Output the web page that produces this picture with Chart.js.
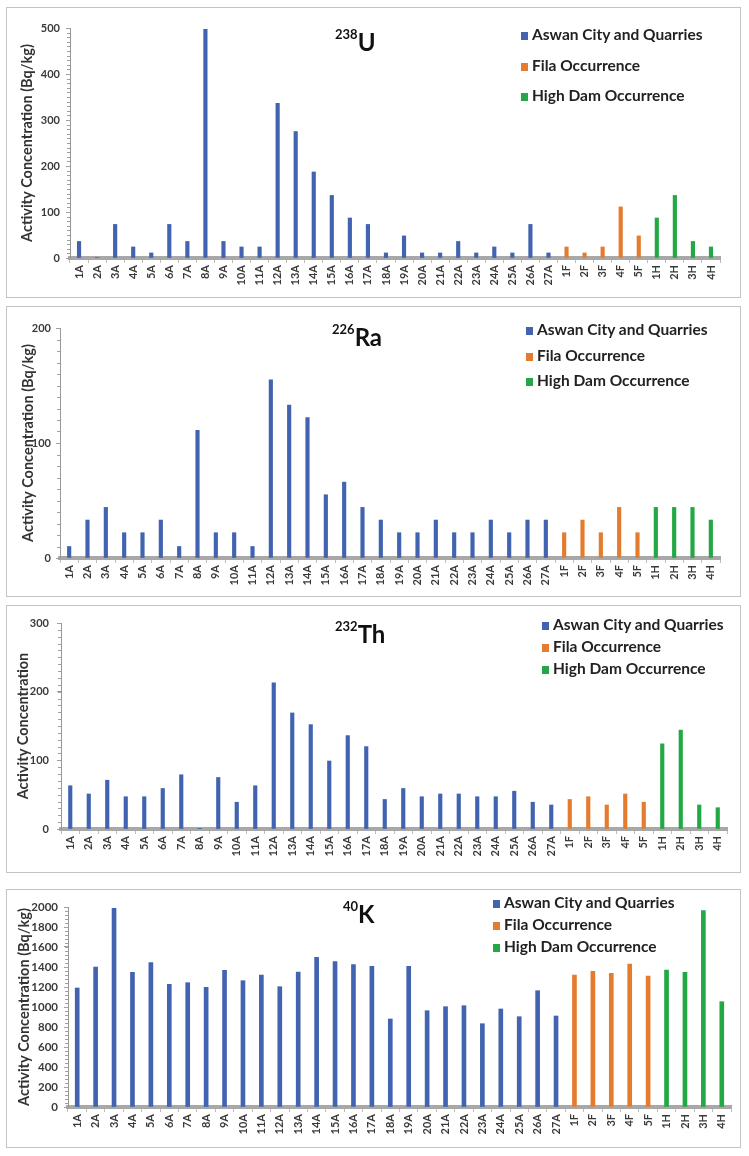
<!DOCTYPE html>
<html><head><meta charset="utf-8">
<script src="https://cdn.jsdelivr.net/npm/chart.js@4.4.1/dist/chart.umd.min.js"></script>
<style>
body{margin:0;background:#fff;width:749px;height:1156px;position:relative;overflow:hidden;font-family:Lato,'Liberation Sans',sans-serif;}
.panel{position:absolute;left:6px;width:733px;border:1px solid #c4c4c4;}
.panel canvas{position:absolute;left:0;top:0;}
.ttl{position:absolute;font-weight:bold;color:#111;white-space:nowrap;line-height:1;}
.ttl sup{font-size:13px;vertical-align:top;position:relative;top:-2px;}
.ttl span{font-size:24px;}
.lg{position:absolute;font-weight:bold;color:#222;font-size:15.5px;white-space:nowrap;}
.lg i{display:inline-block;width:7px;height:8px;margin-right:4px;vertical-align:0px;}
</style></head>
<body>
<script>
// ---------- data ----------
const categories = ['1A','2A','3A','4A','5A','6A','7A','8A','9A','10A','11A','12A','13A','14A','15A','16A','17A','18A','19A','20A','21A','22A','23A','24A','25A','26A','27A','1F','2F','3F','4F','5F','1H','2H','3H','4H'];
const seriesNames = ['Aswan City and Quarries','Fila Occurrence','High Dam Occurrence'];

const u238Aswan = [36,1,73,24,11,73,36,497,36,24,24,336,275,187,136,87,73,11,48,11,11,36,11,24,11,73,11];
const u238Fila  = [24,11,24,111,48];
const u238Dam   = [87,136,36,24];

const ra226Aswan = [10,33,44,22,22,33,10,111,22,22,10,155,133,122,55,66,44,33,22,22,33,22,22,33,22,33,33];
const ra226Fila  = [22,33,22,44,22];
const ra226Dam   = [44,44,44,33];

const th232Aswan = [63,51,71,47,47,59,79,1,75,39,63,213,169,152,99,136,120,43,59,47,51,51,47,47,55,39,35];
const th232Fila  = [43,47,35,51,39];
const th232Dam   = [124,144,35,31];

const k40Aswan = [1190,1400,1987,1347,1443,1227,1243,1197,1367,1263,1320,1203,1350,1497,1453,1423,1407,880,1407,963,1003,1013,833,980,903,1163,910];
const k40Fila  = [1320,1357,1337,1430,1310];
const k40Dam   = [1370,1347,1963,1053];

const yMaxU = 500, yStepU = 100;
const yMaxRa = 200, yStepRa = 100;
const yMaxTh = 300, yStepTh = 100;
const yMaxK = 2000, yStepK = 200;

// ---------- styling / layout ----------
const colors = ['#4163b0','#e47c2f','#22a844'];

const panels = [
  {iso:'238', el:'U', A:u238Aswan, F:u238Fila, H:u238Dam, max:yMaxU, step:yStepU, minor:10,
   yTitle:'Activity Concentration (Bq/kg)',
   box:{top:7,h:289}, pad:{top:20,right:20}, yW:63, xH:39, titleOff:12, tickPad:6, yFont:11, bar:3.5,
   ttl:{left:335,top:30}, lg:{left:521,top:35,gap:30.5}},
  {iso:'226', el:'Ra', A:ra226Aswan, F:ra226Fila, H:ra226Dam, max:yMaxRa, step:yStepRa, minor:10,
   yTitle:'Activity Concentration (Bq/kg)',
   box:{top:306,h:289}, pad:{top:21,right:20}, yW:53, xH:38, titleOff:13, tickPad:5, yFont:11, bar:3.5,
   ttl:{left:332,top:325}, lg:{left:526,top:330,gap:25.5}},
  {iso:'232', el:'Th', A:th232Aswan, F:th232Fila, H:th232Dam, max:yMaxTh, step:yStepTh, minor:10,
   yTitle:'Activity Concentration',
   box:{top:605,h:266}, pad:{top:17,right:13}, yW:54, xH:43, titleOff:8, tickPad:8, yFont:11, bar:3.5,
   ttl:{left:335,top:622}, lg:{left:542,top:625,gap:22}},
  {iso:'40', el:'K', A:k40Aswan, F:k40Fila, H:k40Dam, max:yMaxK, step:yStepK, minor:5,
   yTitle:'Activity Concentration (Bq/kg)',
   box:{top:889,h:257}, pad:{top:17,right:9}, yW:61, xH:40, titleOff:9, tickPad:6, yFont:11.5, bar:4,
   ttl:{left:343,top:902}, lg:{left:493,top:903,gap:22}}
];

const minorTicks = {
  id:'minorTicks',
  afterDraw(chart, args, opts){
    const y = chart.scales.y, ctx = chart.ctx;
    const step = opts.step;
    ctx.save(); ctx.strokeStyle = '#a0a0a0'; ctx.lineWidth = 1;
    for (let v = y.min; v <= y.max + 1e-9; v += step){
      const py = Math.round(y.getPixelForValue(v)) + 0.5;
      ctx.beginPath(); ctx.moveTo(y.right - 3, py); ctx.lineTo(y.right, py); ctx.stroke();
    }
    ctx.restore();
  }
};

panels.forEach(p => {
  const div = document.createElement('div');
  div.className = 'panel';
  div.style.top = p.box.top + 'px';
  div.style.height = p.box.h + 'px';
  document.body.appendChild(div);
  const cv = document.createElement('canvas');
  cv.width = 733; cv.height = p.box.h;
  cv.style.width = '733px'; cv.style.height = p.box.h + 'px';
  div.appendChild(cv);

  const nA = p.A.length, nF = p.F.length;
  const mk = (arr, start) => categories.map((c, i) => (i >= start && i < start + arr.length) ? arr[i - start] : null);
  const groups = [mk(p.A, 0), mk(p.F, nA), mk(p.H, nA + nF)];

  const chart = new Chart(cv, {
    type:'bar',
    data:{
      labels: categories,
      datasets: groups.map((d, k) => ({
        label: seriesNames[k], data: d, backgroundColor: colors[k], borderWidth: 0,
        barThickness: p.bar, skipNull: true
      }))
    },
    options:{
      responsive:false, animation:false, devicePixelRatio:1,
      layout:{padding:{left:0, top:p.pad.top, right:p.pad.right, bottom:0}},
      plugins:{legend:{display:false}, tooltip:{enabled:false}, minorTicks:{step:p.step / p.minor}},
      scales:{
        x:{
          offset:true,
          grid:{display:true, drawOnChartArea:false, drawTicks:true, tickLength:5, color:'#bdbdbd', offset:true},
          border:{display:true, color:'#a8a8a8', width:4},
          ticks:{autoSkip:false, minRotation:90, maxRotation:90, padding:2, color:'#3a3a3a',
                 font:{family:'Lato', weight:'bold', size:11}},
          afterFit(s){ s.height = p.xH; }
        },
        y:{
          min:0, max:p.max,
          ticks:{stepSize:p.step, padding:p.tickPad, color:'#3a3a3a', font:{family:'Lato', weight:'bold', size:p.yFont},
                 callback:(v) => String(v)},
          grid:{display:true, drawOnChartArea:false, drawTicks:true, tickLength:4, color:'#999'},
          border:{display:true, color:'#999', width:1},
          title:{display:true, text:p.yTitle, color:'#333', padding:{top:p.titleOff, bottom:0},
                 font:{family:'Lato', weight:'bold', size:14.5}},
          afterFit(s){ s.width = p.yW; }
        }
      }
    },
    plugins:[minorTicks]
  });

  // chart title (isotope)
  const t = document.createElement('div');
  t.className = 'ttl';
  t.style.left = p.ttl.left + 'px'; t.style.top = p.ttl.top + 'px';
  t.innerHTML = '<sup>' + p.iso + '</sup><span>' + p.el + '</span>';
  document.body.appendChild(t);

  // legend from chart datasets
  const lg = document.createElement('div');
  lg.className = 'lg';
  lg.style.left = p.lg.left + 'px'; lg.style.top = (p.lg.top - 10) + 'px';
  chart.data.datasets.forEach((ds, k) => {
    const row = document.createElement('div');
    row.style.position = 'absolute';
    row.style.top = (k * p.lg.gap) + 'px';
    row.style.left = '0px';
    row.innerHTML = '<i style="background:' + ds.backgroundColor + '"></i>' + ds.label;
    lg.appendChild(row);
  });
  document.body.appendChild(lg);
});
</script>
</body></html>
